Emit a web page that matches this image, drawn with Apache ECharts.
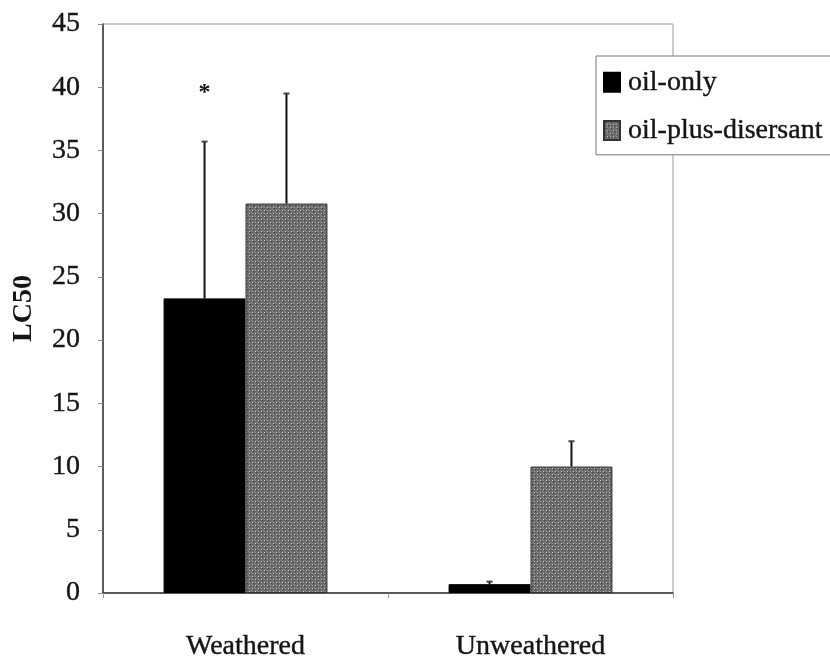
<!DOCTYPE html>
<html>
<head>
<meta charset="utf-8">
<script src="https://cdn.jsdelivr.net/npm/echarts@6/dist/echarts.min.js"></script>
<style>
  html, body { margin: 0; padding: 0; background: #fff; }
  #chart { width: 830px; height: 661px; }
</style>
</head>
<body>
<div id="chart"></div>
<script>
// Treatment groups on the x axis
const categories = ['Weathered', 'Unweathered'];
// Mean LC50 values
const oilOnly = [23.3, 0.7];
const oilPlusDispersant = [30.8, 10.0];
// Upper ends of the error bars
const oilOnlyUpper = [35.7, 0.9];
const oilPlusDispersantUpper = [39.5, 12.0];
// Significance marks above the oil-only bars
const oilOnlySig = ['*', ''];
const sigLevel = [40, 0];
// Y axis range
const yMin = 0, yMax = 45, yStep = 5;

const FONT = '"Liberation Serif", "DejaVu Serif", serif';
const INK = '#151515';
// Slightly heavier serif text
const textBase = { fontFamily: FONT, fontSize: 28, color: INK,
                   textBorderColor: INK, textBorderWidth: 0.4 };

// Grey stipple texture for the dispersant bars
function makeStipple() {
  const c = document.createElement('canvas');
  c.width = 6; c.height = 6;
  const ctx = c.getContext('2d');
  ctx.fillStyle = '#6a6a6a';
  ctx.fillRect(0, 0, 6, 6);
  ctx.fillStyle = '#cfcfcf';
  ctx.fillRect(0, 0, 1, 1);
  ctx.fillRect(3, 3, 1, 1);
  ctx.fillStyle = '#9c9c9c';
  ctx.fillRect(3, 0, 1, 1);
  ctx.fillRect(0, 3, 1, 1);
  ctx.fillStyle = '#404040';
  ctx.fillRect(1, 1, 1, 1);
  ctx.fillRect(4, 4, 1, 1);
  ctx.fillStyle = '#888888';
  ctx.fillRect(5, 2, 1, 1);
  ctx.fillRect(2, 5, 1, 1);
  return c;
}
const stipple = { image: makeStipple(), repeat: 'repeat' };

const catGap = 0.425;

// Draws one upward error bar (and optional mark) per category
function errorBars(side, marks, markAt) {
  return function (params, api) {
    const i = api.value(0);
    const mean = api.value(1);
    const hi = api.value(2);
    const catW = api.size([1, 0])[0];
    const barW = catW * (1 - catGap) / 2;
    const base = api.coord([i, mean]);
    const top = api.coord([i, hi]);
    const x = base[0] + side * barW / 2;
    const children = [
      { type: 'line', shape: { x1: x, y1: base[1], x2: x, y2: top[1] },
        style: { stroke: '#111', lineWidth: 2 } },
      { type: 'line', shape: { x1: x - 3, y1: top[1], x2: x + 3, y2: top[1] },
        style: { stroke: '#444', lineWidth: 2 } }
    ];
    if (marks && marks[i]) {
      const p = api.coord([i, markAt[i]]);
      children.push({ type: 'text', x: x, y: p[1] + 6,
        style: { text: marks[i], font: 'bold 24px ' + FONT, fill: '#111',
                 align: 'center', verticalAlign: 'middle' } });
    }
    return { type: 'group', children };
  };
}

const chart = echarts.init(document.getElementById('chart'));
chart.setOption({
  backgroundColor: '#fff',
  animation: false,
  grid: { left: 103, right: 157, top: 24, bottom: 68, show: true,
          outerBoundsMode: 'none', containLabel: false,
          borderColor: '#9a9a9a', borderWidth: 1, backgroundColor: 'transparent' },
  legend: {
    left: 596, top: 56,
    orient: 'vertical',
    icon: 'rect',
    itemWidth: 16, itemHeight: 19, itemGap: 20,
    padding: [12, 40, 10, 7],
    backgroundColor: '#fff',
    borderColor: '#777', borderWidth: 1,
    textStyle: Object.assign({}, textBase, { padding: [0, 0, 0, 3] }),
    data: ['oil-only', 'oil-plus-disersant']
  },
  xAxis: {
    type: 'category',
    data: categories,
    axisLine: { lineStyle: { color: '#333', width: 1.5 } },
    axisTick: { show: true, length: 5, lineStyle: { color: '#999' } },
    axisLabel: Object.assign({}, textBase, { margin: 40 })
  },
  yAxis: {
    type: 'value',
    min: yMin, max: yMax, interval: yStep,
    name: 'LC50',
    nameLocation: 'middle',
    nameGap: 65,
    nameTextStyle: Object.assign({}, textBase, { fontWeight: 'bold', textBorderWidth: 0 }),
    axisLine: { show: true, lineStyle: { color: '#333', width: 1.5 } },
    axisTick: { show: true, length: 5, lineStyle: { color: '#888' } },
    splitLine: { show: false },
    axisLabel: Object.assign({}, textBase, { margin: 23 })
  },
  series: [
    { name: 'oil-only', type: 'bar', data: oilOnly,
      barGap: '0%', barCategoryGap: (catGap * 100) + '%',
      itemStyle: { color: '#000', borderColor: '#000', borderWidth: 1 } },
    { name: 'oil-plus-disersant', type: 'bar', data: oilPlusDispersant,
      itemStyle: { color: stipple, borderColor: '#333', borderWidth: 1 } },
    { type: 'custom', name: 'oil-only-err', silent: true, z: 5,
      renderItem: errorBars(-1, oilOnlySig, sigLevel),
      data: categories.map((c, i) => [i, oilOnly[i], oilOnlyUpper[i]]) },
    { type: 'custom', name: 'dispersant-err', silent: true, z: 5,
      renderItem: errorBars(1, null, null),
      data: categories.map((c, i) => [i, oilPlusDispersant[i], oilPlusDispersantUpper[i]]) }
  ]
});
</script>
</body>
</html>
